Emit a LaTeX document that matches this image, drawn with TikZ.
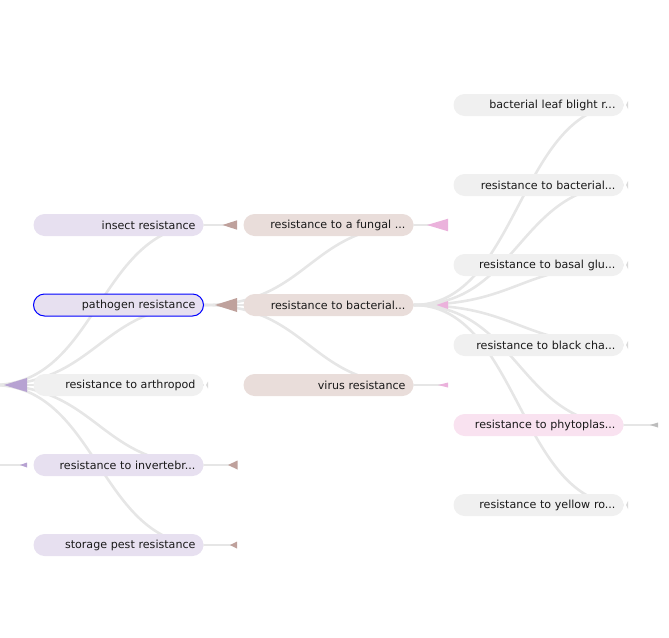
\documentclass[tikz,border=0pt]{standalone}
\usepackage{fontspec}
\setmainfont{DejaVu Sans}
\usetikzlibrary{positioning,backgrounds}

\definecolor{lpurple}{HTML}{E7E0F0}
\definecolor{lbrown}{HTML}{E9DDDA}
\definecolor{lgrey}{HTML}{F0F0F0}
\definecolor{lpink}{HTML}{F9E2F0}
\definecolor{dpurple}{HTML}{B7A2D2}
\definecolor{dbrown}{HTML}{BFA19C}
\definecolor{dpink}{HTML}{EBB2DC}
\definecolor{dgrey}{HTML}{BDBDBD}
\definecolor{tgrey}{HTML}{DADADA}
\definecolor{linkgrey}{HTML}{E6E6E6}

% tip x, y, length, half height, colour
\newcommand{\termflag}[5]{\fill[#5] (#1,#2) -- ++(#3,-#4) -- ++(0,2*#4) -- cycle;}

\begin{document}
\begin{tikzpicture}[x=1pt,y=-1pt]
    \tikzstyle{term}=[rectangle,rounded corners=11pt,minimum height=22pt,text width=154pt,
      inner xsep=8pt,inner ysep=0pt,align=right,text=black!90,font=\fontsize{11.1}{13}\selectfont]
    \tikzstyle{link}=[draw=linkgrey,line width=2.6pt]
    \useasboundingbox (0,0) rectangle (669,637);
    \clip (0,0) rectangle (669,637);

    \coordinate (root) at (-7,385);
    \coordinate (other) at (-7,465);

    % first column
    \node[term,fill=lpurple] (ins) at (118.5,225) {insect resistance};
    \node[term,fill=lpurple,draw=blue,line width=1pt] (pat) at (118.5,305) {pathogen resistance};
    \node[term,fill=lgrey] (art) at (118.5,385) {resistance to arthropod};
    \node[term,fill=lpurple] (inv) at (118.5,465) {resistance to invertebr...};
    \node[term,fill=lpurple] (sto) at (118.5,545) {storage pest resistance};

    % second column
    \node[term,fill=lbrown] (fun) at (328.5,225) {resistance to a fungal ...};
    \node[term,fill=lbrown] (bac) at (328.5,305) {resistance to bacterial...};
    \node[term,fill=lbrown] (vir) at (328.5,385) {virus resistance};

    % third column
    \node[term,fill=lgrey] (blb) at (538.5,105) {bacterial leaf blight r...};
    \node[term,fill=lgrey] (rtb) at (538.5,185) {resistance to bacterial...};
    \node[term,fill=lgrey] (bgl) at (538.5,265) {resistance to basal glu...};
    \node[term,fill=lgrey] (bch) at (538.5,345) {resistance to black cha...};
    \node[term,fill=lpink] (phy) at (538.5,425) {resistance to phytoplas...};
    \node[term,fill=lgrey] (yel) at (538.5,505) {resistance to yellow ro...};

    \begin{scope}[on background layer]
      \foreach \n in {ins,pat,art,inv,sto}
        \draw[link] (root) .. controls +(105,0) and +(-105,0) .. (\n.east);
      \foreach \n in {fun,bac,vir}
        \draw[link] (pat.east) .. controls +(105,0) and +(-105,0) .. (\n.east);
      \foreach \n in {blb,rtb,bgl,bch,phy,yel}
        \draw[link] (bac.east) .. controls +(105,0) and +(-105,0) .. (\n.east);
      \draw[link] (root) -- +(30,0);
      \draw[link] (other) -- +(30,0);
      \foreach \n in {ins,pat,inv,sto,fun,bac,vir}
        \draw[link] (\n.east) -- +(30,0);
      \draw[link] (phy.east) -- +(30,0);
    \end{scope}

    % markers
    \termflag{4}{385}{23}{7}{dpurple}
    \termflag{20}{465}{7}{2.5}{dpurple}
    \termflag{222.5}{225}{14.5}{4.7}{dbrown}
    \termflag{215}{305}{22}{7}{dbrown}
    \termflag{206}{385}{2}{3.5}{tgrey}
    \termflag{228}{465}{9.5}{4.5}{dbrown}
    \termflag{230}{545}{7}{3.5}{dbrown}
    \termflag{427}{225}{21}{6.3}{dpink}
    \termflag{436.5}{305}{11.5}{4}{dpink}
    \termflag{438}{385}{10}{2.5}{dpink}
    \foreach \y in {105,185,265,345,505}
      {\termflag{626}{\y}{2}{4}{tgrey}}
    \termflag{650}{425}{8}{2.5}{dgrey}
\end{tikzpicture}
\end{document}
